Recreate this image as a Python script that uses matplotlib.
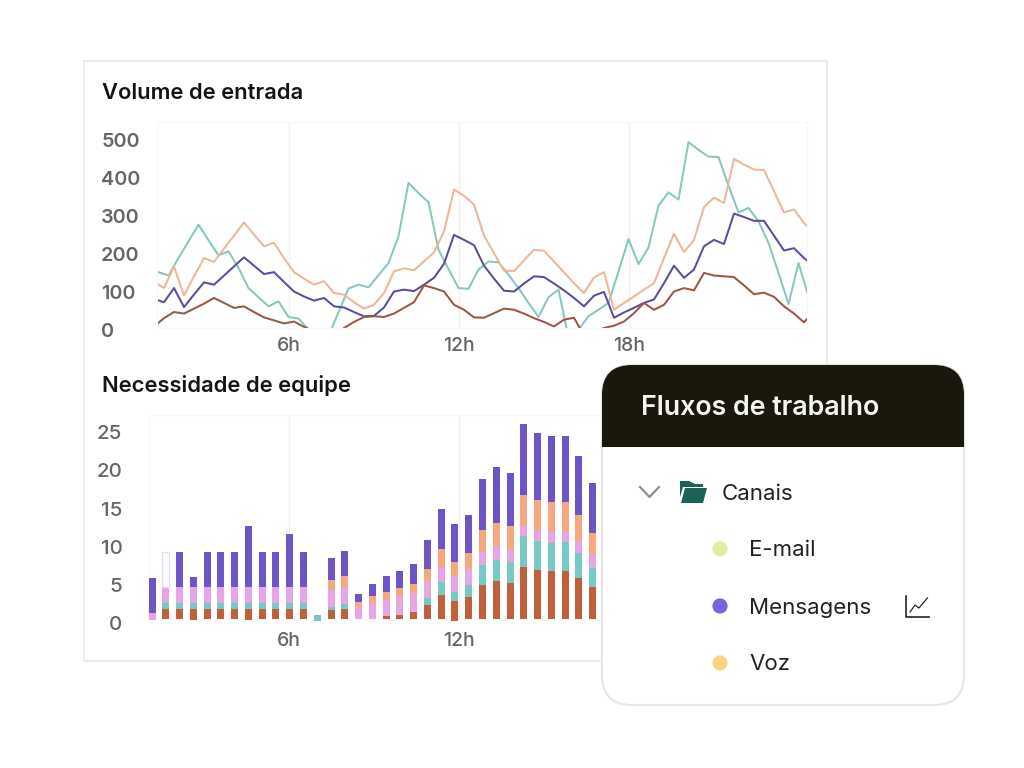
import matplotlib
matplotlib.use("Agg")
import matplotlib.pyplot as plt
from matplotlib.patches import FancyBboxPatch, Rectangle, Circle, Polygon
from matplotlib.transforms import ScaledTranslation
import numpy as np

plt.rcParams['font.family'] = ['Inter', 'DejaVu Sans']

# ---------- data ----------
title_top = "Volume de entrada"
title_bottom = "Necessidade de equipe"
panel_title = "Fluxos de trabalho"
group_label = "Canais"
channels = ["E-mail", "Mensagens", "Voz"]
channel_colors = ["#dfeea2", "#7a62e0", "#fdd47e"]

hour_ticks = [6, 12, 18]
hour_labels = ["6h", "12h", "18h"]
volume_ticks = [0, 100, 200, 300, 400, 500]
staff_ticks = [0, 5, 10, 15, 20, 25]

orange = [122, 105, 162, 86, 136, 184, 174, 209, 243, 278, 246, 215, 224, 184, 147, 130, 114, 123, 92, 88,
          68, 51, 61, 92, 149, 157, 152, 175, 199, 254, 364, 348, 325, 243, 197, 151, 150, 178, 206, 203,
          175, 146, 118, 92, 133, 147, 48, 66, 83, 101, 118, 184, 248, 200, 232, 318, 343, 329, 445, 430,
          417, 416, 360, 304, 312, 276, 250]
purple = [76, 68, 105, 55, 88, 120, 114, 138, 162, 186, 164, 142, 147, 121, 96, 83, 72, 79, 57, 54,
          42, 31, 32, 54, 96, 101, 97, 114, 132, 169, 245, 232, 218, 164, 130, 98, 96, 117, 136, 134,
          117, 99, 79, 57, 85, 95, 27, 41, 53, 66, 75, 118, 164, 132, 154, 215, 232, 221, 301, 292,
          282, 282, 243, 204, 210, 184, 162]
brown = [4, 26, 42, 38, 51, 64, 79, 66, 53, 57, 42, 28, 20, 12, 17, 3, -9, -22, -31, 0,
         16, 29, 31, 29, 38, 53, 68, 112, 105, 96, 61, 48, 28, 27, 39, 51, 48, 38, 26, 16,
         4, 22, 27, -20, -10, 0, 6, 17, 39, 66, 48, 61, 96, 105, 99, 145, 138, 136, 134, 112,
         89, 93, 82, 57, 38, 15, 45]
teal = [155, 147, 138, 184, 228, 272, 231, 191, 202, 158, 105, 81, 57, 70, 29, 25, -4, -60, -20, 41,
        104, 114, 107, 139, 171, 241, 382, 355, 331, 206, 155, 105, 103, 154, 175, 173, 140, 105, 66, 29,
        81, 101, -25, -4, 31, 48, 66, 149, 234, 168, 212, 322, 357, 338, 489, 469, 451, 450, 375, 304,
        316, 281, 224, 145, 63, 171, 83]

s_brown = [0, 1.3, 1.3, 1.3, 1.3, 1.3, 1.3, 1.3, 1.3, 1.3, 1.3, 1.3, 0, 1.1, 1.3, 0, 0, 0.3, 0.5, 0.87,
           1.83, 3.14, 2.31, 2.84, 4.45, 4.89, 4.67, 6.72, 6.33, 6.2, 6.2, 5.33, 4.15]
s_teal = [0, 0.75, 0.75, 0.75, 0.75, 0.75, 0.75, 0.75, 0.75, 0.75, 0.75, 0.75, 0.75, 0.4, 0.65, 0, 0, 0, 0, 0,
          0.87, 1.66, 1.18, 1.53, 2.53, 2.8, 2.7, 4.06, 3.89, 3.76, 3.8, 3.19, 2.45]
s_pink = [0.95, 2.1, 2.1, 2.1, 2.1, 2.1, 2.1, 2.1, 2.1, 2.1, 2.1, 2.1, 0, 2.2, 2.2, 1.5, 2.05, 2.2, 2.4, 2.5,
          2.18, 1.97, 2.05, 2.1, 1.75, 1.79, 1.66, 1.35, 1.35, 1.53, 1.48, 1.62, 1.79]
s_orange = [0, 0, 0, 0, 0, 0, 0, 0, 0, 0, 0, 0, 0, 1.3, 1.45, 0.65, 0.87, 0.96, 1.05, 1.18,
            1.66, 2.31, 1.92, 2.14, 2.93, 3.1, 3.06, 4.1, 3.93, 3.76, 3.76, 3.36, 2.84]
s_purple = [4.5, 0, 4.6, 1.3, 4.6, 4.6, 4.6, 8.0, 4.6, 4.6, 6.9, 4.6, 0, 2.9, 3.2, 1.1, 1.57, 2.05, 2.27, 2.62,
            3.76, 5.28, 4.9, 4.93, 6.68, 7.29, 6.99, 9.3, 8.82, 8.69, 8.69, 7.77, 6.5]
s_blank = [0, 4.6] + [0] * 31
s_offset = [-0.2, 0, 0, -0.2, 0, 0, 0, -0.2, 0, 0, 0, 0, -0.3, 0, 0, 0, 0, 0, 0, 0,
            0, 0, -0.3, 0, 0, 0, 0, 0, -0.05, -0.05, -0.05, 0, 0]

# ---------- layout (pixels) ----------
W, H = 1024, 768
fig = plt.figure(figsize=(W / 100, H / 100), dpi=100, facecolor="white")


def px_axes(l, t, r, b, z):
    return fig.add_axes([l / W, 1 - b / H, (r - l) / W, (b - t) / H], zorder=z)


def overlay(z):
    a = fig.add_axes([0, 0, 1, 1], zorder=z)
    a.set_xlim(0, W)
    a.set_ylim(H, 0)
    a.axis("off")
    a.patch.set_alpha(0)
    return a


PX_PER_HOUR = 28.33


def px_to_hour(p):
    return 6 + (p - 289) / PX_PER_HOUR


bg = overlay(0)
bg.add_patch(Rectangle((84, 61), 743, 600, fc="white", ec="#ebebeb", lw=1.5))
bg.text(102, 93, title_top, fontsize=15.8, fontweight="semibold", color="#141414", va="center")
bg.text(102, 386, title_bottom, fontsize=15.8, fontweight="semibold", color="#141414", va="center")

FRAME = "#f8f8f8"
GRID = "#f0f0f0"
LABEL = "#666666"


def style(a):
    for s in a.spines.values():
        s.set_color(FRAME)
        s.set_linewidth(0.8)
    a.patch.set_alpha(0)
    a.set_xticks(hour_ticks, hour_labels)
    a.grid(axis="x", color=GRID, lw=1)
    a.set_axisbelow(True)
    a.tick_params(length=0, labelcolor=LABEL)
    for lab in a.get_xticklabels():
        lab.set_fontsize(14)
        lab.set_fontweight("medium")


# ---------- top chart ----------
ax1 = px_axes(157, 122, 807, 328, 1)
ax1.set_xlim(px_to_hour(157), px_to_hour(807))
ax1.set_ylim(0, (328 - 122) / 0.38)
style(ax1)
STEP_H = 10 / PX_PER_HOUR
t_main = px_to_hour(154) + np.arange(len(orange)) * STEP_H
t_teal = px_to_hour(148.5) + np.arange(len(teal)) * STEP_H
ax1.plot(t_teal, teal, color="#85c8bf", lw=1.45)
ax1.plot(t_main, orange, color="#edb699", lw=1.45)
ax1.plot(t_main, purple, color="#5b4c9f", lw=1.45)
ax1.plot(t_main, brown, color="#9c5642", lw=1.45)
ax1.set_yticks(volume_ticks, [str(v) for v in volume_ticks])
ax1.tick_params(axis="x", pad=6.5)
for lab in ax1.get_yticklabels():
    lab.set_fontsize(14.3)
    lab.set_fontweight("semibold")
    lab.set_ha("left")
    lab.set_transform(lab.get_transform() + ScaledTranslation(-51 / 100, -2.5 / 100, fig.dpi_scale_trans))

# ---------- bottom chart ----------
ax2 = px_axes(149, 415, 807, 618.5, 1)
ax2.set_xlim(px_to_hour(149), px_to_hour(807))
ax2.set_ylim(0, (618.5 - 415) / 7.63)
style(ax2)
BAR_STEP = 13.77 / PX_PER_HOUR
centers = px_to_hour(152) + np.arange(len(s_purple)) * BAR_STEP
BW = 7.0 / PX_PER_HOUR
bottom = np.array(s_offset, dtype=float)
first = True
for vals, col in [(s_brown, "#c0603f"), (s_teal, "#77c9c5"), (s_pink, "#e6a5e3"),
                  (s_orange, "#f6a981"), (s_purple, "#6e55c5")]:
    v = np.array(vals, dtype=float)
    if first:
        v = np.where(v > 0, v - bottom, v)
        first = False
    ax2.bar(centers, v, BW, bottom=bottom, color=col, clip_on=False, lw=0, zorder=3)
    bottom = bottom + v
ax2.bar(centers, s_blank, BW, bottom=bottom, fc="white",
        ec=["#e6def0" if b > 0 else "none" for b in s_blank], lw=0.9, zorder=3)
ax2.set_yticks(staff_ticks, [str(v) for v in staff_ticks])
ax2.tick_params(axis="x", pad=9.5)
ax2.tick_params(axis="y", pad=26.5 * 0.72)
for lab in ax2.get_yticklabels():
    lab.set_fontsize(14.8)
    lab.set_fontweight("medium")
    lab.set_transform(lab.get_transform() + ScaledTranslation(0, -4.5 / 100, fig.dpi_scale_trans))

# ---------- floating panel ----------
fg = overlay(2)
L, T, R, B = 602, 365, 964, 705
rad = 30
body = FancyBboxPatch((L + rad, T + rad), R - L - 2 * rad, B - T - 2 * rad,
                      boxstyle=f"round,pad={rad},rounding_size={rad}",
                      fc="white", ec="#e6e6e6", lw=1.5, zorder=1)
fg.add_patch(body)
header = Rectangle((L, T), R - L, 82, fc="#1a170c", ec="none", zorder=2)
fg.add_patch(header)
header.set_clip_path(body)
fg.text(641, 408, panel_title, color="#f5f5f2", fontsize=19.3, fontweight="semibold", va="center", zorder=3)

fg.plot([640, 649.5, 659], [487, 497, 487], color="#8f8f8f", lw=1.6, zorder=3)
fg.add_patch(Polygon([(680, 497), (680, 481), (689, 481), (695, 484), (703, 484), (703, 487),
                      (683, 487)], fc="#1b6258", ec="none", zorder=3))
fg.add_patch(Polygon([(681, 503), (703, 503), (707, 488), (685, 488)], fc="#1b6258", ec="none", zorder=3))
fg.text(722, 493.5, group_label, color="#222222", fontsize=16, va="center", zorder=3)

for label, col, y in zip(channels, channel_colors, [549, 606, 663]):
    fg.add_patch(Circle((720, y), 7.6, fc=col, ec="none", zorder=3))
    fg.text(749, y + 1.5, label, color="#222222", fontsize=16, va="center", zorder=3)

fg.plot([906, 906, 928.5], [596, 617, 617], color="#222222", lw=1.2, zorder=3)
fg.plot([910, 915, 919, 924, 927.5], [612, 605, 608, 602, 598], color="#222222", lw=0.9, zorder=3)

fig.savefig("out.png", dpi=100, facecolor="white")
